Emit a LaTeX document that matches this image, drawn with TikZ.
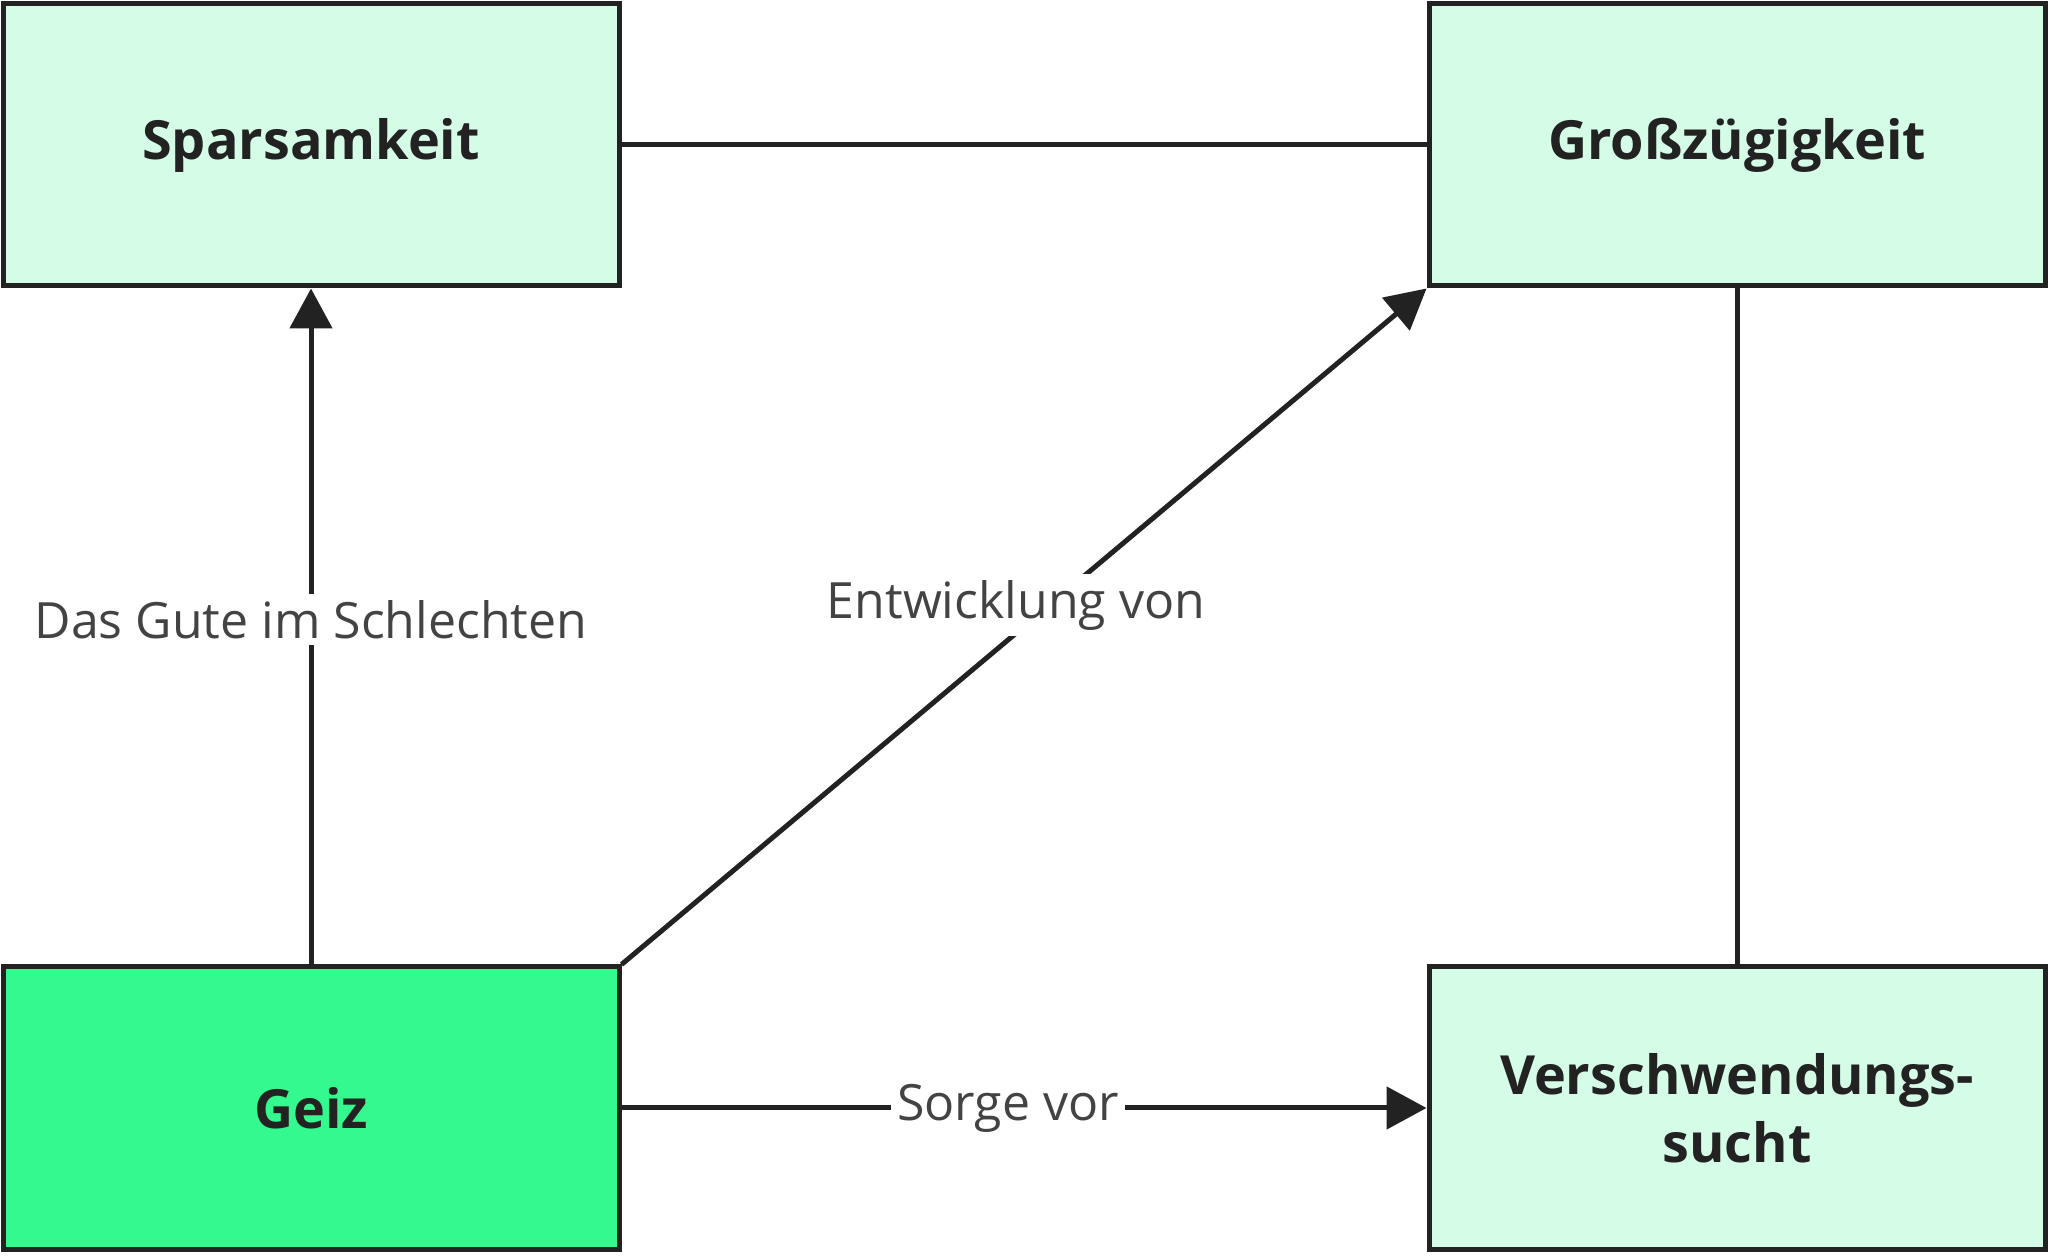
\documentclass[tikz,border=0pt]{standalone}
\usepackage{fontspec}
\setmainfont{Open Sans}
\usetikzlibrary{arrows.meta}
\definecolor{lg}{HTML}{D4FCE6}
\definecolor{dg}{HTML}{33F98E}
\definecolor{ln}{HTML}{222222}
\begin{document}
\begin{tikzpicture}[x=0.5pt,y=0.5pt,
  box/.style={draw=ln,line width=2.5pt,fill=lg,minimum width=308pt,minimum height=141pt,inner sep=0pt,font=\fontsize{27}{34}\selectfont\bfseries,text=ln,align=center},
  con/.style={draw=ln,line width=2.5pt},
  arr/.style={con,-{Triangle[length=20pt,width=21pt]}},
  lab/.style={fill=white,text=ln!85,font=\fontsize{25}{30}\selectfont,inner sep=3pt}]
\useasboundingbox (0,0) rectangle (2048,1257);
\node[box] (sp) at (311,1112) {Sparsamkeit};
\node[box] (gr) at (1737,1112) {Großzügigkeit};
\node[box,fill=dg] (ge) at (311,149) {Geiz};
\node[box] (ve) at (1737,149) {Verschwendungs-\\sucht};
\draw[con] (sp.east) -- (gr.west);
\draw[con] (gr.south) -- (ve.north);
\draw[arr] (ge.north) -- node[lab,pos=0.51]{Das Gute im Schlechten} (sp.south);
\draw[arr] (ge.north east) -- node[lab,pos=0.49,yshift=14pt]{Entwicklung von} (gr.south west);
\draw[arr] (ge.east) -- node[lab,pos=0.48]{Sorge vor} (ve.west);
\end{tikzpicture}
\end{document}
